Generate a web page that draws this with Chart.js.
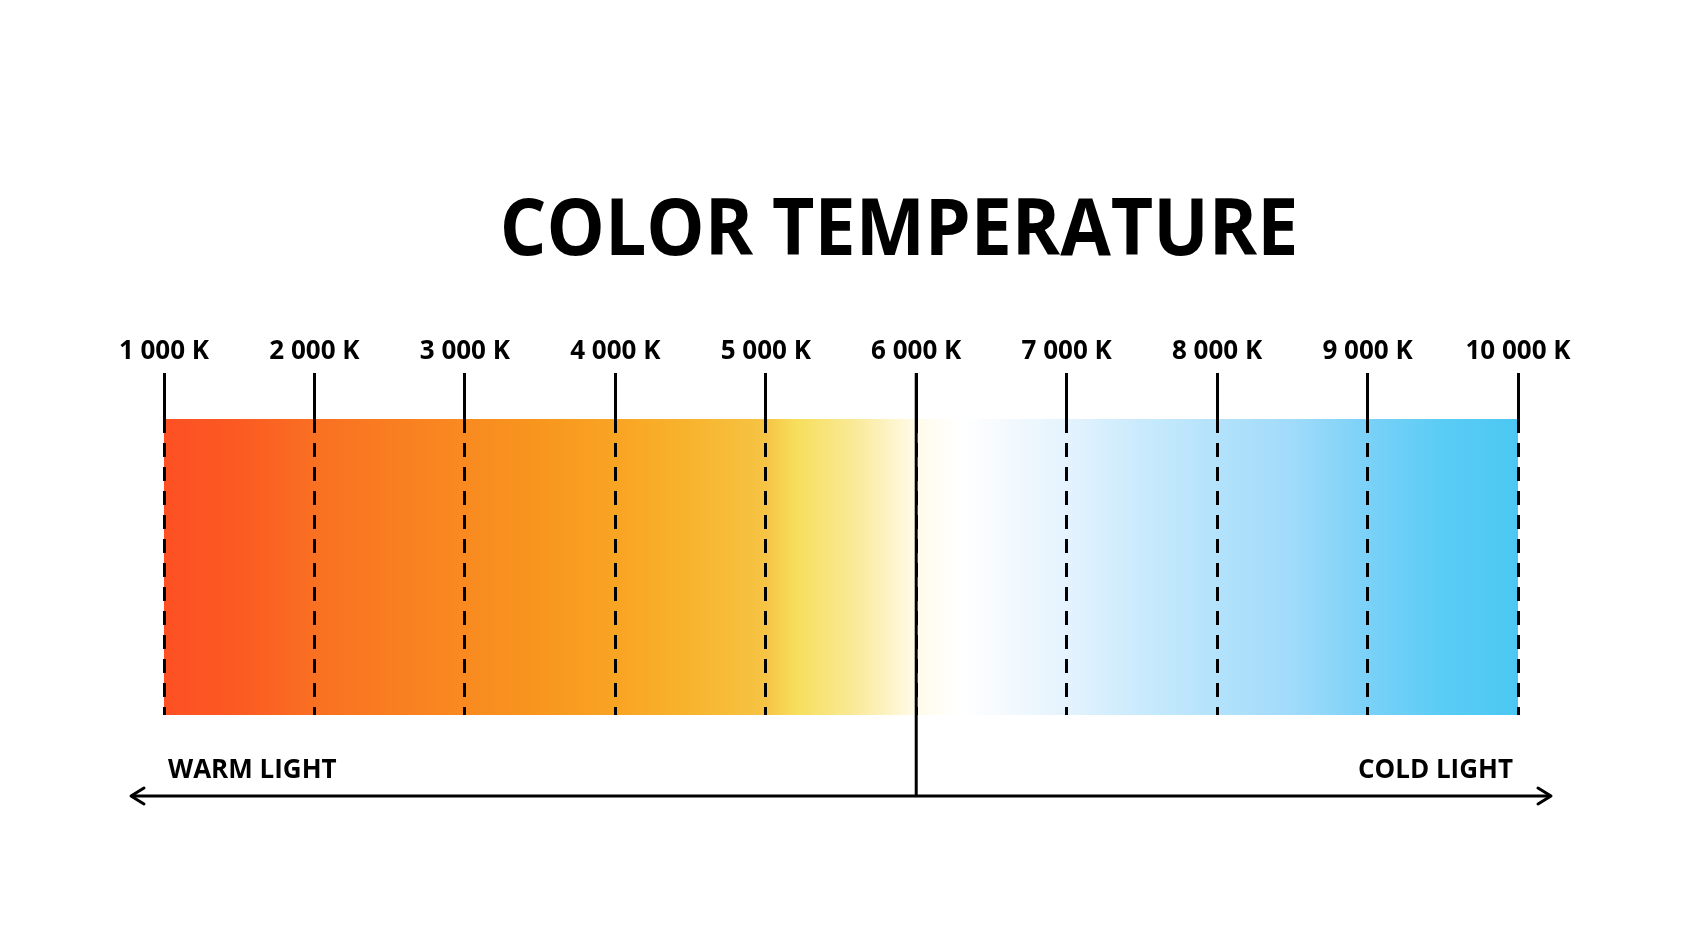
<!DOCTYPE html>
<html>
<head>
<meta charset="utf-8">
<title>Color temperature</title>
<script src="https://cdn.jsdelivr.net/npm/chart.js@4.4.1/dist/chart.umd.min.js"></script>
<style>
  html, body { margin: 0; padding: 0; background: #ffffff; }
  canvas { display: block; }
</style>
</head>
<body>
<canvas id="myChart" width="1683" height="944"></canvas>
<script>
// Data: kelvin range, tick values and gradient colour stops

const kelvinTicks = [1000, 2000, 3000, 4000, 5000, 6000, 7000, 8000, 9000, 10000];
const gradientStops = [1000, 1500, 2000, 3000, 3500, 4000, 4500, 5000, 5200, 5600, 6000, 6300, 6700, 7000, 7500, 8000, 8500, 9000, 9500, 10000];
const gradientColors = ['#fd5023', '#fc5a22', '#f97022', '#f98a20', '#f8961e', '#f9a423', '#f8b42e', '#f6c444', '#f7de5c', '#faea9a',
                        '#fffbea', '#ffffff', '#f0f8fe', '#e4f3fd', '#c9eafc', '#b3e2fb', '#a0dbfa', '#7ad1f7', '#5accf5', '#4bc8f2'];
const band = [{x: 1000, y: 1}, {x: 10000, y: 1}];
const neutralPoint = 6000;
const warmLabel = 'WARM LIGHT';
const coldLabel = 'COLD LIGHT';
const chartTitle = 'COLOR TEMPERATURE';

const fontFamily = "'Open Sans', 'Noto Sans', sans-serif";

function kelvinLabel(v) {
    return String(v).replace(/\B(?=(\d{3})+(?!\d))/g, ' ') + ' K';
}

function bandGradient(context) {
    const chart = context.chart;
    if (!chart.chartArea) return null;
    const xs = chart.scales.x;
    const x0 = xs.getPixelForValue(kelvinTicks[0]);
    const x1 = xs.getPixelForValue(kelvinTicks[kelvinTicks.length - 1]);
    const g = chart.ctx.createLinearGradient(x0, 0, x1, 0);
    const span = gradientStops[gradientStops.length - 1] - gradientStops[0];
    gradientStops.forEach((t, i) => g.addColorStop((t - gradientStops[0]) / span, gradientColors[i]));
    return g;
}

// title, neutral line, arrow and warm / cold labels
const decorations = {
    id: 'decorations',
    afterDraw(chart) {
        const {ctx, chartArea} = chart;
        const xs = chart.scales.x;
        const left = xs.getPixelForValue(kelvinTicks[0]);
        const right = xs.getPixelForValue(kelvinTicks[kelvinTicks.length - 1]);
        const mid = xs.getPixelForValue(neutralPoint);
        const arrowY = chartArea.bottom + 81;

        ctx.save();
        ctx.fillStyle = '#000';
        ctx.strokeStyle = '#000';

        // title, slightly condensed
        ctx.save();
        ctx.translate((left + right) / 2 + 58, 255);
        ctx.scale(0.94, 1);
        ctx.font = "bold 78px " + fontFamily;
        ctx.textAlign = 'center';
        ctx.textBaseline = 'alphabetic';
        ctx.fillText(chartTitle, 0, 0);
        ctx.restore();

        // solid neutral line
        ctx.lineWidth = 3;
        ctx.beginPath();
        ctx.moveTo(mid, chartArea.top - 46);
        ctx.lineTo(mid, arrowY);
        ctx.stroke();

        // double arrow
        const a0 = left - 33, a1 = right + 33;
        ctx.beginPath();
        ctx.moveTo(a0, arrowY);
        ctx.lineTo(a1, arrowY);
        ctx.stroke();
        ctx.lineCap = 'round';
        ctx.lineJoin = 'round';
        ctx.beginPath();
        ctx.moveTo(a0 + 13, arrowY - 8);
        ctx.lineTo(a0, arrowY);
        ctx.lineTo(a0 + 13, arrowY + 8);
        ctx.moveTo(a1 - 13, arrowY - 8);
        ctx.lineTo(a1, arrowY);
        ctx.lineTo(a1 - 13, arrowY + 8);
        ctx.stroke();

        // labels
        ctx.font = "bold 26px " + fontFamily;
        ctx.textAlign = 'left';
        ctx.fillText(warmLabel, left + 4, arrowY - 18);
        ctx.textAlign = 'right';
        ctx.fillText(coldLabel, right - 5, arrowY - 18);
        ctx.restore();
    }
};

const config = {
    type: 'line',
    data: {
        datasets: [{
            data: band,
            borderWidth: 0,
            pointRadius: 0,
            fill: 'start',
            backgroundColor: bandGradient,
        }]
    },
    options: {
        responsive: false,
        animation: false,
        devicePixelRatio: 1,
        layout: {
            padding: {top: 319, bottom: 229, left: 164, right: 165}
        },
        plugins: {
            legend: {display: false},
            tooltip: {enabled: false},
        },
        scales: {
            x: {
                type: 'linear',
                position: 'top',
                min: 1000,
                max: 10000,
                afterFit(scale) { scale.height = 100; },
                afterBuildTicks(scale) {
                    scale.ticks = kelvinTicks.map(v => ({value: v}));
                },
                ticks: {
                    autoSkip: false,
                    maxRotation: 0,
                    padding: 6,
                    color: '#000',
                    font: {family: fontFamily, size: 26, weight: 'bold'},
                    callback: kelvinLabel,
                },
                grid: {
                    z: 1,
                    color: '#000',
                    lineWidth: 3,
                    tickLength: 46,
                    tickWidth: 3,
                    tickColor: '#000',
                    tickBorderDash: [],
                },
                border: {
                    display: false,
                    dash: [14, 10],
                },
            },
            y: {
                display: false,
                min: 0,
                max: 1,
            }
        }
    },
    plugins: [decorations]
};

const ctx = document.querySelector('#myChart');
const myChart = new Chart(ctx, config);
</script>
</body>
</html>
